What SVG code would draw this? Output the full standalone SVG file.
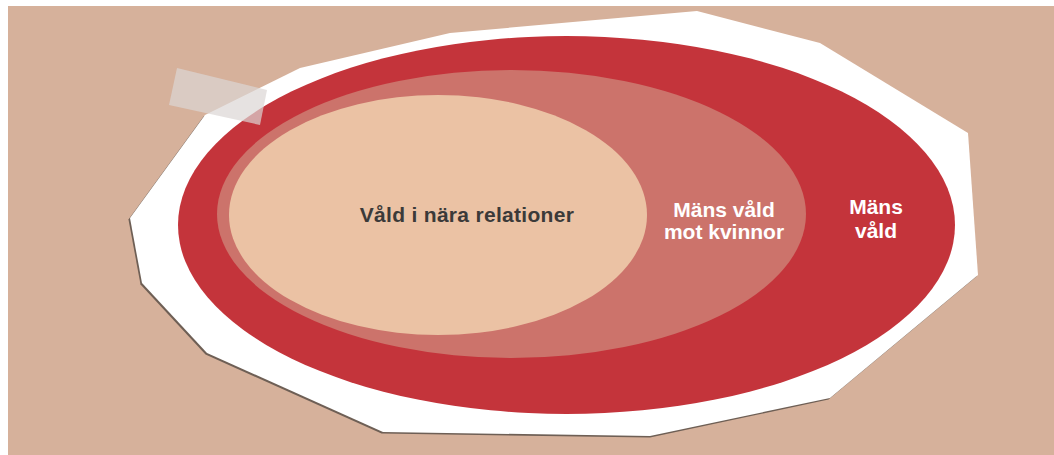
<svg xmlns="http://www.w3.org/2000/svg" width="1054" height="455" viewBox="0 0 1054 455">
<style>
.lbl{font-family:"Liberation Sans","DejaVu Sans",sans-serif;font-weight:bold;text-anchor:middle;font-size:21px}
.w{fill:#ffffff}
.d{fill:#3b3a39}
</style>
<rect x="0" y="0" width="1054" height="455" fill="#ffffff"/>
<rect x="8" y="6" width="1046" height="449" fill="#d6b19b"/>
<g id="paper">
<polygon points="128.5,219.5 140.5,284.5 205.5,354.5 381.5,433.5 650,437.5 828.5,399.5 976.5,276.5 966,135 818,45 697,13 450,35 300,70 203.5,116.5" fill="#6e5f55"/>
<polygon points="130,218 142,283 207,353 383,432 650,436 830,398 978,275 968,133 820,43 697,11 450,33 300,68 205,115" fill="#ffffff"/>
</g>
<g id="mans-vald">
<ellipse cx="566.5" cy="225" rx="388.5" ry="189" fill="#c4343b"/>
<text class="lbl w" x="876" y="214">Mäns</text>
<text class="lbl w" x="876" y="238">våld</text>
</g>
<g id="mans-vald-mot-kvinnor">
<ellipse cx="511.5" cy="214" rx="294.5" ry="144" fill="#cc736b"/>
<text class="lbl w" x="724" y="217">Mäns våld</text>
<text class="lbl w" x="724" y="239">mot kvinnor</text>
</g>
<g id="vald-i-nara-relationer">
<ellipse cx="438" cy="215" rx="209" ry="120" fill="#ebc2a4"/>
<text class="lbl d" x="467" y="222" letter-spacing="0.3">Våld i nära relationer</text>
</g>
<g id="tape">
<polygon points="177,68 267,90 260,125 169,105" fill="#dcd6d4" opacity="0.7"/>
</g>
<g id="connectors"/>
</svg>
